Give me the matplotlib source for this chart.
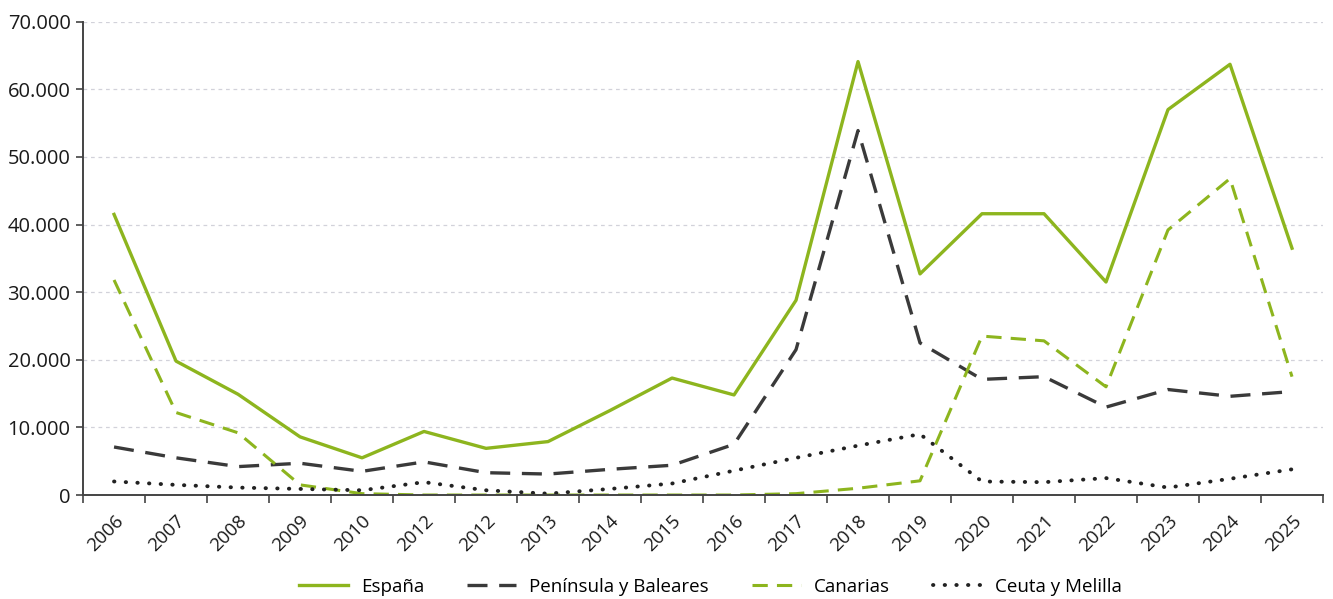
import matplotlib

matplotlib.use("Agg")

import matplotlib.pyplot as plt
from matplotlib.ticker import FuncFormatter, FixedLocator

plt.rcParams["font.family"] = ["Open Sans", "DejaVu Sans"]

years = ["2006", "2007", "2008", "2009", "2010", "2012", "2012", "2013", "2014", "2015",
         "2016", "2017", "2018", "2019", "2020", "2021", "2022", "2023", "2024", "2025"]

espana = [41500, 19800, 14900, 8600, 5500, 9400, 6900, 7900, 12500, 17300,
          14800, 28800, 64100, 32700, 41600, 41600, 31500, 57000, 63700, 36500]
peninsula = [7100, 5500, 4200, 4700, 3500, 4900, 3300, 3100, 3800, 4400,
             7500, 21500, 53900, 22500, 17100, 17500, 13000, 15600, 14600, 15300]
canarias = [31800, 12200, 9200, 1500, 200, 0, 0, 0, 0, 0,
            0, 200, 1000, 2100, 23500, 22800, 16000, 39200, 46800, 17500]
ceuta = [2000, 1500, 1100, 900, 700, 1900, 700, 200, 900, 1700,
         3600, 5500, 7300, 9000, 2000, 1900, 2500, 1100, 2400, 3800]

GREEN = "#8db51e"
DARK = "#3a3a3a"

fig = plt.figure(figsize=(13.33, 5.99), dpi=100)
ax = fig.add_axes([0.0623, 0.1736, 0.9302, 0.7902])

x = range(len(years))
ax.plot(x, espana, color=GREEN, lw=2.4, label="España")
ax.plot(x, peninsula, color=DARK, lw=2.4, dashes=(6, 3.5), label="Península y Baleares")
ax.plot(x, canarias, color=GREEN, lw=2.2, dashes=(5, 3), label="Canarias")
ax.plot(x, ceuta, color="#222222", lw=2.8, dashes=(0.1, 2.9), dash_capstyle="round",
        label="Ceuta y Melilla")

ax.set_xlim(-0.5, len(years) - 0.5)
ax.set_ylim(0, 70000)
ax.set_yticks(range(0, 70001, 10000))
ax.yaxis.set_major_formatter(FuncFormatter(lambda v, p: f"{int(v):,}".replace(",", ".")))

ax.set_xticks(list(x))
ax.set_xticklabels(years, rotation=45, ha="right", va="top", rotation_mode="anchor")
ax.xaxis.set_minor_locator(FixedLocator([i + 0.5 for i in range(-1, len(years))]))
ax.tick_params(axis="x", which="major", length=0, pad=12, labelsize=13.5, labelcolor="#1a1a1a")
ax.tick_params(axis="x", which="minor", length=6, width=1.2, color="#444444", direction="out")
ax.tick_params(axis="y", length=5, width=1.2, color="#444444", labelsize=14.5,
               labelcolor="#1a1a1a", pad=4)

for v in range(10000, 70001, 10000):
    ax.axhline(v, color="#d2d2da", lw=0.9, dashes=(3, 3), zorder=0)

for side in ("top", "right"):
    ax.spines[side].set_visible(False)
for side in ("left", "bottom"):
    ax.spines[side].set_color("#444444")
    ax.spines[side].set_linewidth(1.4)

fig.legend(loc="center", bbox_to_anchor=(0.533, 0.02), ncol=4, frameon=False,
           fontsize=13.5, handlelength=2.6, columnspacing=2.3, handletextpad=0.7)

fig.savefig("out.png", dpi=100)
